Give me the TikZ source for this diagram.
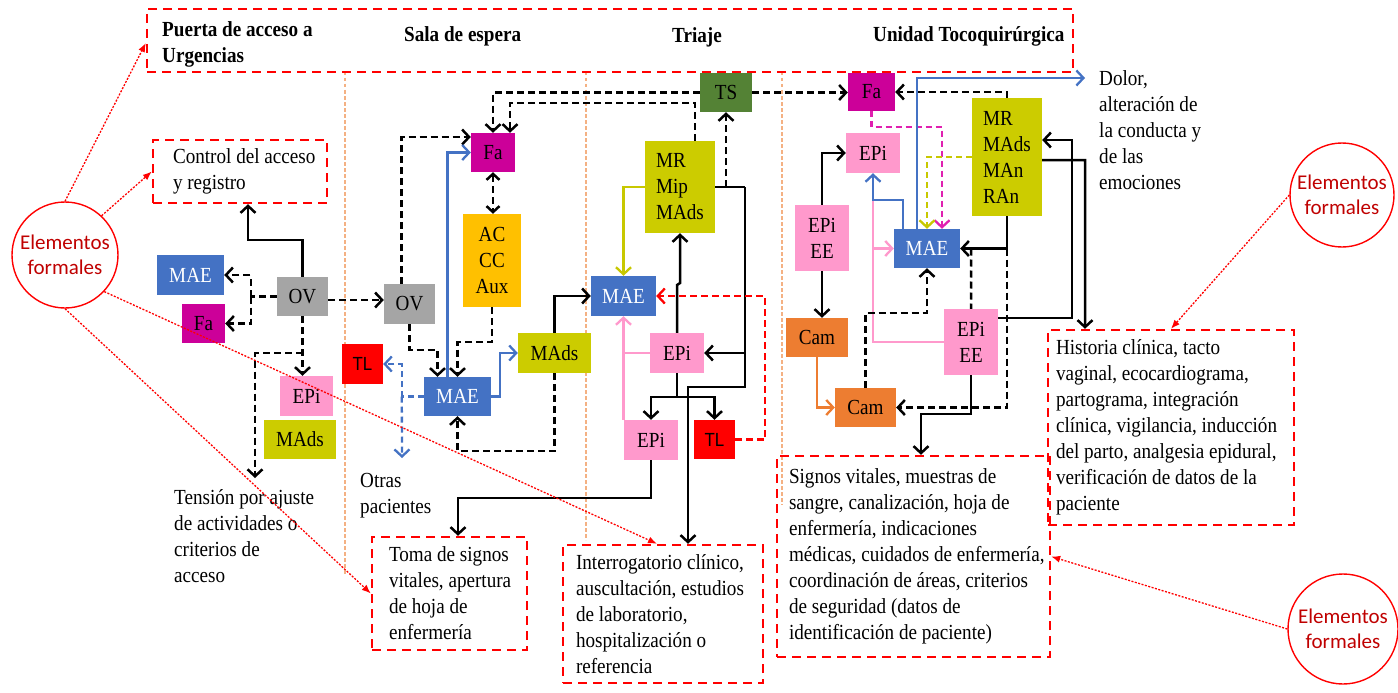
\documentclass[tikz,border=0pt]{standalone}
\usepackage{fontspec}
\setmainfont{Liberation Serif}[FakeStretch=0.89]
\newfontfamily\elfont{Carlito}
\newfontfamily\tlfont{Liberation Sans}[FakeStretch=0.89]
\usetikzlibrary{arrows.meta,calc}
\definecolor{maeblue}{HTML}{4472C4}
\definecolor{ovgray}{HTML}{A5A5A5}
\definecolor{famag}{HTML}{CC0099}
\definecolor{epipink}{HTML}{FF99CC}
\definecolor{olivey}{HTML}{CCCC00}
\definecolor{acor}{HTML}{FFC000}
\definecolor{camor}{HTML}{ED7D31}
\definecolor{tsgreen}{HTML}{548235}
\definecolor{sepc}{HTML}{F4B183}
\definecolor{elred}{HTML}{C00000}
\definecolor{olline}{HTML}{C8C800}
\definecolor{mgline}{HTML}{E020B0}
\newcommand\nodefnt{\fontsize{21.5}{26}\selectfont}
\tikzset{
  bx/.style={rectangle, inner sep=0pt, font=\nodefnt, align=center},
  sz/.style 2 args={minimum width=#1, minimum height=#2},
  maen/.style={bx, fill=maeblue, text=white},
  ovn/.style={bx, fill=ovgray},
  fan/.style={bx, fill=famag},
  epin/.style={bx, fill=epipink},
  oln/.style={bx, fill=olivey},
  tln/.style={bx, fill=red, font=\tlfont\fontsize{19}{22}\selectfont},
  txt/.style={inner sep=0pt, font=\nodefnt, align=left},
  hd/.style={inner sep=0pt, font=\nodefnt\bfseries, align=left},
  frame/.style={rectangle, draw=red, line width=2.4pt, dash pattern=on 9pt off 6pt},
  sep/.style={draw=sepc, line width=1.2pt, dash pattern=on 3.5pt off 2.5pt},
  ln/.style={draw=black, line width=2.5pt},
  dl/.style={ln, dash pattern=on 7pt off 4pt},
  bl/.style={draw=maeblue, line width=2.3pt},
  bld/.style={bl, dash pattern=on 6pt off 4pt},
  pk/.style={draw=epipink, line width=2.3pt},
  ol/.style={draw=olline, line width=2.3pt},
  old/.style={ol, dash pattern=on 6pt off 4pt},
  mgd/.style={draw=mgline, line width=2.3pt, dash pattern=on 6pt off 4pt},
  orl/.style={draw=camor, line width=2.3pt},
  rdd/.style={draw=red, line width=2.3pt, dash pattern=on 7pt off 4pt},
  arr/.style={-{Straight Barb[length=7pt,width=15pt]}},
  dbl/.style={{Straight Barb[length=6pt,width=13pt]}-{Straight Barb[length=6pt,width=13pt]}},
  elc/.style={circle, draw=red, line width=1.4pt, inner sep=0pt, fill=white, text=elred, align=center, font=\elfont\fontsize{21}{25}\selectfont},
  note/.style={draw=red, line width=1.3pt, dash pattern=on 2pt off 1.5pt, -{Latex[length=9pt,width=7pt]}}
}
\begin{document}
\begin{tikzpicture}[x=1pt,y=-1pt]
\useasboundingbox (0,0) rectangle (1398,693);
\fill[white] (0,0) rectangle (1398,693);

% separators
\draw[sep] (345,72) -- (345,575);
\draw[sep] (586,72) -- (586,540);
\draw[sep] (782,72) -- (782,505);

% header
\node[frame, sz={926}{63}] (hdr) at (610,40.5) {};
\node[hd, anchor=north west] (puerta) at (162,21) {Puerta de acceso a\\Urgencias};
\node[hd, anchor=base west] (sala) at (404,42) {Sala de espera};
\node[hd, anchor=base] (triaje) at (697,43) {Triaje};
\node[hd, anchor=base west] (unidad) at (873,42) {Unidad Tocoquirúrgica};

% text frames
\node[frame, sz={174}{63}] (ctrl) at (240,171.5) {};
\node[txt, anchor=west] (ctrltx) at ($(ctrl.west)+(21,0)$) {Control del acceso\\y registro};
\node[frame, sz={155}{113}] (toma) at (449.5,593.5) {};
\node[txt, anchor=west] (tomatx) at ($(toma.west)+(18,0)$) {Toma de signos\\vitales, apertura\\de hoja de\\enfermería};
\node[frame, sz={200}{138}] (interro) at (663,614) {};
\node[txt, anchor=west] (interrotx) at ($(interro.west)+(14,0)$) {Interrogatorio clínico,\\auscultación, estudios\\de laboratorio,\\hospitalización o\\referencia};
\node[frame, sz={273}{201}] (signos) at (913.5,556.5) {};
\node[txt, anchor=west] (signostx) at ($(signos.west)+(13,0)$) {Signos vitales, muestras de\\sangre, canalización, hoja de\\enfermería, indicaciones\\médicas, cuidados de enfermería,\\coordinación de áreas, criterios\\de seguridad (datos de\\identificación de paciente)};
\node[frame, sz={246}{195}] (historia) at (1171,427.5) {};
\node[txt, anchor=west] (historiatx) at ($(historia.west)+(9,0)$) {Historia clínica, tacto\\vaginal, ecocardiograma,\\partograma, integración\\clínica, vigilancia, inducción\\del parto, analgesia epidural,\\verificación de datos de la\\paciente};

% free texts
\node[txt, anchor=north west] (tension) at (174,489) {Tensión por ajuste\\de actividades o\\criterios de\\acceso};
\node[txt, anchor=north west] (otras) at (360,473) {Otras\\pacientes};
\node[txt, anchor=north west] (dolor) at (1099,70) {Dolor,\\alteración de\\la conducta y\\de las\\emociones};

% column 1
\node[ovn, sz={51}{39}] (ov1) at (302.5,296.5) {OV};
\node[maen, sz={67}{40}] (mae1) at (190.5,275) {MAE};
\node[fan, sz={43}{39}] (fa1) at (203.5,323.5) {Fa};
\node[epin, sz={53}{40}] (epi1) at (306.5,396) {EPi};
\node[oln, sz={72}{39}] (mads1) at (300,439.5) {MAds};

% column 2
\node[fan, sz={44}{39}] (fa2) at (493,152.5) {Fa};
\node[bx, fill=acor, sz={58}{93}] (ac) at (492,260.5) {AC\\CC\\Aux};
\node[ovn, sz={51}{40}] (ov2) at (409.5,304) {OV};
\node[maen, sz={67}{39}] (mae2) at (457.5,396.5) {MAE};
\node[oln, sz={73}{40}] (mads2) at (554.5,353) {MAds};
\node[tln, sz={41}{40}] (tl2) at (362.5,364) {TL};

% column 3
\node[bx, fill=tsgreen, sz={52}{39}] (ts) at (726,92.5) {TS};
\node[oln, sz={70}{92}, align=left] (mr3) at (680,187) {MR\\Mip\\MAds};
\node[maen, sz={65}{40}] (mae3) at (623.5,296) {MAE};
\node[epin, sz={54}{40}] (epi3a) at (677,353) {EPi};
\node[epin, sz={54}{40}] (epi3b) at (651,440) {EPi};
\node[tln, sz={41}{39}] (tl3) at (714.5,439.5) {TL};

% column 4
\node[fan, sz={47}{38}] (fa4) at (871.5,92) {Fa};
\node[epin, sz={54}{40}] (epi4a) at (873,153) {EPi};
\node[oln, sz={70}{118}, align=left] (mr4) at (1007,157) {MR\\MAds\\MAn\\RAn};
\node[epin, sz={54}{66}] (epiee1) at (822,238) {EPi\\EE};
\node[maen, sz={66}{39}] (mae4) at (927,248.5) {MAE};
\node[bx, fill=camor, sz={62}{39}] (cam1) at (817,337.5) {Cam};
\node[bx, fill=camor, sz={61}{39}] (cam2) at (865.5,407.5) {Cam};
\node[epin, sz={54}{66}] (epiee2) at (971,342) {EPi\\EE};

% ---- connectors column 1
\draw[ln,arr] (ov1.north) -- ++(0,-37) -| ($(ctrl.south)+(8,0)$);
\coordinate (j1) at ($(ov1.west)+(-26,0)$);
\draw[dl] (ov1.west) -- (j1);
\draw[dl,arr] (j1) |- (mae1.east);
\draw[dl,arr] (j1) |- (fa1.east);
\draw[dl,arr] (ov1.south) -- (ov1.south |- epi1.north);
\coordinate (tensarr) at ($(tension.north west)+(81,-11)$);
\draw[dl,arr] ($(ov1.south)+(0,37)$) -| (tensarr);
\draw[dl,arr] ($(ov1.east)+(0,3.5)$) -- ($(ov2.west)+(0,-4)$);

% ---- column 2
\draw[dl,arr] ($(ov2.north)+(-8,0)$) |- ($(fa2.west)+(0,-15.5)$);
\draw[bl,arr] ($(mae2.north)+(-10,0)$) |- (fa2.west);
\draw[dl,dbl] (fa2.south) -- (fa2.south |- ac.north);
\draw[dl,arr] (ov2.south) -- ++(0,26) -| ($(mae2.north)+(-20,0)$);
\draw[dl,arr] (ac.south) -- ++(0,35) -| (mae2.north);
\draw[bl,arr] (mae2.east) -- ++(9,0) |- (mads2.west);
\draw[dl,arr] (mads2.south) -- ++(0,78) -| (mae2.south);
\coordinate (j2) at ($(mae2.west)+(-22,0)$);
\draw[bld] (mae2.west) -- (j2);
\draw[bld,arr] (j2) |- (tl2.east);
\draw[bld,arr] (j2) -- ($(otras.north west)+(42,-15)$);
\draw[ln,arr] (mads2.north) |- (mae3.west);

% ---- top dashed
\draw[dl,arr] (ts.west) -| (fa2.north);
\draw[dl,arr] ($(mr3.north)+(15,0)$) -- ++(0,-38) -| ($(fa2.north)+(17,0)$);
\draw[dl,arr] (ts.east) -- (ts.east -| fa4.west);

% ---- column 3
\coordinate (j3) at ($(mr3.east)+(30,0)$);
\draw[ln] (mr3.east) -- (j3);
\draw[ln,arr] (j3) |- (epi3a.east);
\draw[ln,arr] (j3) -- ++(0,200) -| ($(interro.north)+(25,0)$);
\draw[dl,arr] (ts.south |- mr3.east) -- (ts.south);
\draw[ol,arr] (mr3.west) -| (mae3.north);
\draw[ln,arr] (epi3a.north) -- (epi3a.north |- 0,285) -- (mr3.south |- 0,283) -- (mr3.south);
\coordinate (j4) at ($(epi3a.south)+(0,24)$);
\draw[ln] (epi3a.south) -- (j4);
\draw[ln,arr] (j4) -| (epi3b.north);
\draw[ln,arr] (j4) -| (tl3.north);
\draw[pk,arr] (mae3.south |- epi3b.north) -- (mae3.south);
\draw[pk] (epi3a.west) -- (epi3a.west -| mae3.south);
\draw[rdd,arr] (tl3.east) -- ++(30,0) |- (mae3.east);
\draw[ln,arr] (epi3b.south) -- ++(0,38) -| ($(toma.north)+(8.5,0)$);

% ---- column 4
\draw[dl,arr] (mr4.north) -- (mr4.north |- fa4.east) -- (fa4.east);
\draw[mgd,arr] (fa4.south) -- ++(0,16) -| ($(mae4.north)+(15,0)$);
\draw[old,arr] (mr4.west) -| (mae4.north);
\draw[pk] (epiee2.west) -| (epi4a.south |- 0,200);
\draw[pk,arr] (epi4a.south |- mae4.west) -- (mae4.west);
\draw[bl,arr] ($(mae4.north)+(-10,0)$) |- ($(dolor.north west)+(-14,8)$);
\draw[bl,arr] ($(mae4.north)+(-24,0)$) -- ++(0,-29) -| (epi4a.south);
\draw[ln,arr] (epiee1.north) |- (epi4a.west);
\draw[ln,arr] (epiee1.south) -- (epiee1.south |- cam1.north);
\draw[orl,arr] (cam1.south) |- (cam2.west);
\draw[dl,arr] (cam2.north) -- ++(0,-75) -| (mae4.south);
\draw[ln,arr] (mr4.south) |- (mae4.east);
\draw[dl,arr] (mr4.south |- mae4.east) |- (cam2.east);
\draw[dl] ($(mae4.east)+(11,0)$) -- (epiee2.north);
\draw[ln,arr] (epiee2.south) -- ++(0,39) -| ($(signos.north)+(7.5,0)$);
\draw[ln,arr] ($(epiee2.north east)+(0,9)$) -- ++(74,0) |- ($(mr4.east)+(0,-17)$);
\draw[ln,arr] ($(mr4.east)+(0,3)$) -- ++(43,0) -- ($(historia.north)+(-86,0)$);

% ---- Elementos formales
\node[elc, minimum size=106] (el1) at (65,255) {Elementos\\formales};
\node[elc, minimum size=104] (el2) at (1342,195) {Elementos\\formales};
\node[elc, minimum size=110] (el3) at (1343,629) {Elementos\\formales};
\draw[note] (el1.north) -- ($(hdr.west)+(0,2.5)$);
\draw[note] (el1.47) -- (ctrl.west);
\draw[note] (el1.-43) -- ($(interro.north)+(-6,0)$);
\draw[note] (el1.south) -- (toma.west);
\draw[note] (el2.west) -- (historia.north);
\draw[note] (el3.west) -- (signos.east);
\end{tikzpicture}
\end{document}
